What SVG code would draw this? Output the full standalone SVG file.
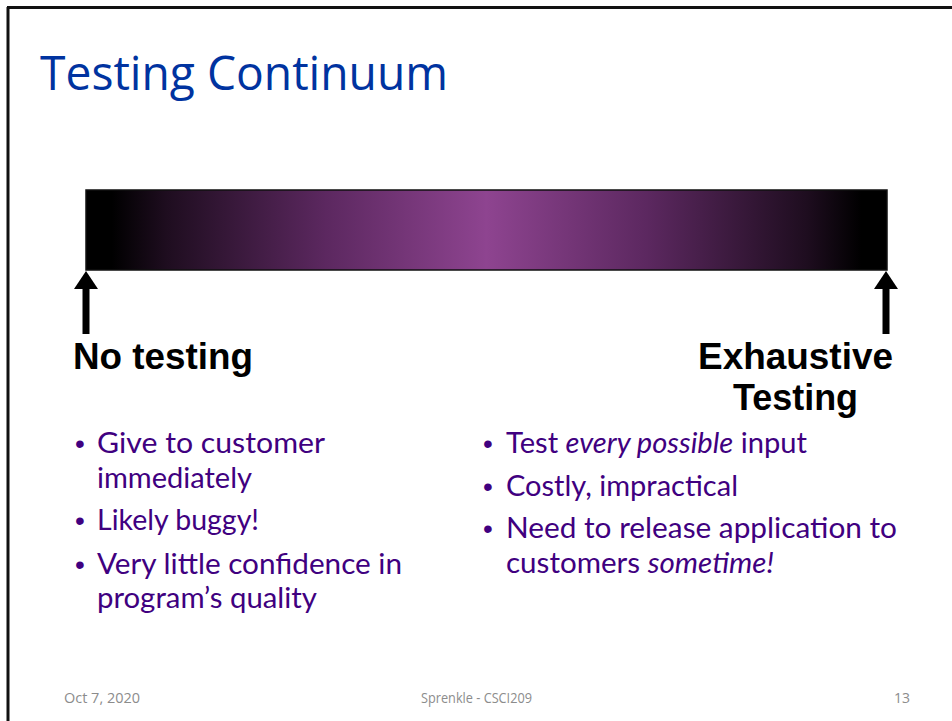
<svg xmlns="http://www.w3.org/2000/svg" width="952" height="721" viewBox="0 0 952 721">
  <defs>
    <linearGradient id="bar" x1="0" y1="0" x2="1" y2="0">
      <stop offset="0" stop-color="#000"/>
      <stop offset="0.032" stop-color="#000"/>
      <stop offset="0.1" stop-color="#1e0d1f"/>
      <stop offset="0.3" stop-color="#5c2860"/>
      <stop offset="0.5" stop-color="#8e4490"/>
      <stop offset="0.7" stop-color="#5c2860"/>
      <stop offset="0.9" stop-color="#1e0d1f"/>
      <stop offset="0.968" stop-color="#000"/>
      <stop offset="1" stop-color="#000"/>
    </linearGradient>
    <style>
      .title { font-family: "Open Sans", "Noto Sans", sans-serif; font-size: 48px; fill: #0033a0; }
      .label { font-family: "Liberation Sans", Arial, sans-serif; font-weight: bold; font-size: 37px; fill: #000; }
      .bullet { font-family: "Lato", "Noto Sans", sans-serif; font-size: 28px; fill: #400080; }
      .dot { font-family: "Liberation Sans", Arial, sans-serif; font-size: 28px; fill: #400080; }
      .foot { font-family: "Open Sans", "Noto Sans", sans-serif; font-size: 14px; fill: #8c8c8c; }
      .shaft { stroke: #000; stroke-width: 7; fill: none; }
      .head { fill: #000; }
    </style>
  </defs>

  <rect width="952" height="721" fill="#fff"/>
  <!-- slide frame -->
  <line x1="7" y1="7.5" x2="952" y2="7.5" stroke="#111" stroke-width="3"/>
  <line x1="8" y1="7" x2="8" y2="721" stroke="#111" stroke-width="3"/>

  <text class="title" x="40" y="90" textLength="408" lengthAdjust="spacingAndGlyphs">Testing Continuum</text>

  <g id="continuum">
    <rect x="86" y="190" width="801" height="80" fill="url(#bar)" stroke="#111" stroke-width="1.5"/>
  </g>

  <g id="connectors">
    <line class="shaft" x1="86" y1="334" x2="86" y2="286"/>
    <polygon class="head" points="86,271 98,289 74,289"/>
    <line class="shaft" x1="886" y1="334" x2="886" y2="286"/>
    <polygon class="head" points="886,271 898,289 874,289"/>
  </g>

  <g id="no-testing">
    <text class="label" x="73" y="369" textLength="180" lengthAdjust="spacingAndGlyphs">No testing</text>
    <text class="dot" x="75" y="453">•</text>
    <text class="bullet" x="97" y="453" textLength="228" lengthAdjust="spacingAndGlyphs">Give to customer</text>
    <text class="bullet" x="97" y="488" textLength="155" lengthAdjust="spacingAndGlyphs">immediately</text>
    <text class="dot" x="75" y="530">•</text>
    <text class="bullet" x="97" y="530" textLength="162" lengthAdjust="spacingAndGlyphs">Likely buggy!</text>
    <text class="dot" x="75" y="574">•</text>
    <text class="bullet" x="97" y="574" textLength="305" lengthAdjust="spacingAndGlyphs">Very little confidence in</text>
    <text class="bullet" x="97" y="608" textLength="220" lengthAdjust="spacingAndGlyphs">program’s quality</text>
  </g>

  <g id="exhaustive-testing">
    <text class="label" x="893" y="369" text-anchor="end" textLength="195" lengthAdjust="spacingAndGlyphs">Exhaustive</text>
    <text class="label" x="733" y="410" textLength="125" lengthAdjust="spacingAndGlyphs">Testing</text>
    <text class="dot" x="483" y="453">•</text>
    <text class="bullet" x="506" y="453" textLength="301" lengthAdjust="spacingAndGlyphs">Test <tspan font-style="italic">every possible</tspan> input</text>
    <text class="dot" x="483" y="496">•</text>
    <text class="bullet" x="506" y="496" textLength="232" lengthAdjust="spacingAndGlyphs">Costly, impractical</text>
    <text class="dot" x="483" y="538">•</text>
    <text class="bullet" x="506" y="538" textLength="391" lengthAdjust="spacingAndGlyphs">Need to release application to</text>
    <text class="bullet" x="506" y="573" textLength="268" lengthAdjust="spacingAndGlyphs">customers <tspan font-style="italic">sometime!</tspan></text>
  </g>

  <g id="footer">
    <text class="foot" x="64" y="703" textLength="76" lengthAdjust="spacingAndGlyphs">Oct 7, 2020</text>
    <text class="foot" x="421" y="703" textLength="111" lengthAdjust="spacingAndGlyphs">Sprenkle - CSCI209</text>
    <text class="foot" x="910" y="703" text-anchor="end">13</text>
  </g>
</svg>
